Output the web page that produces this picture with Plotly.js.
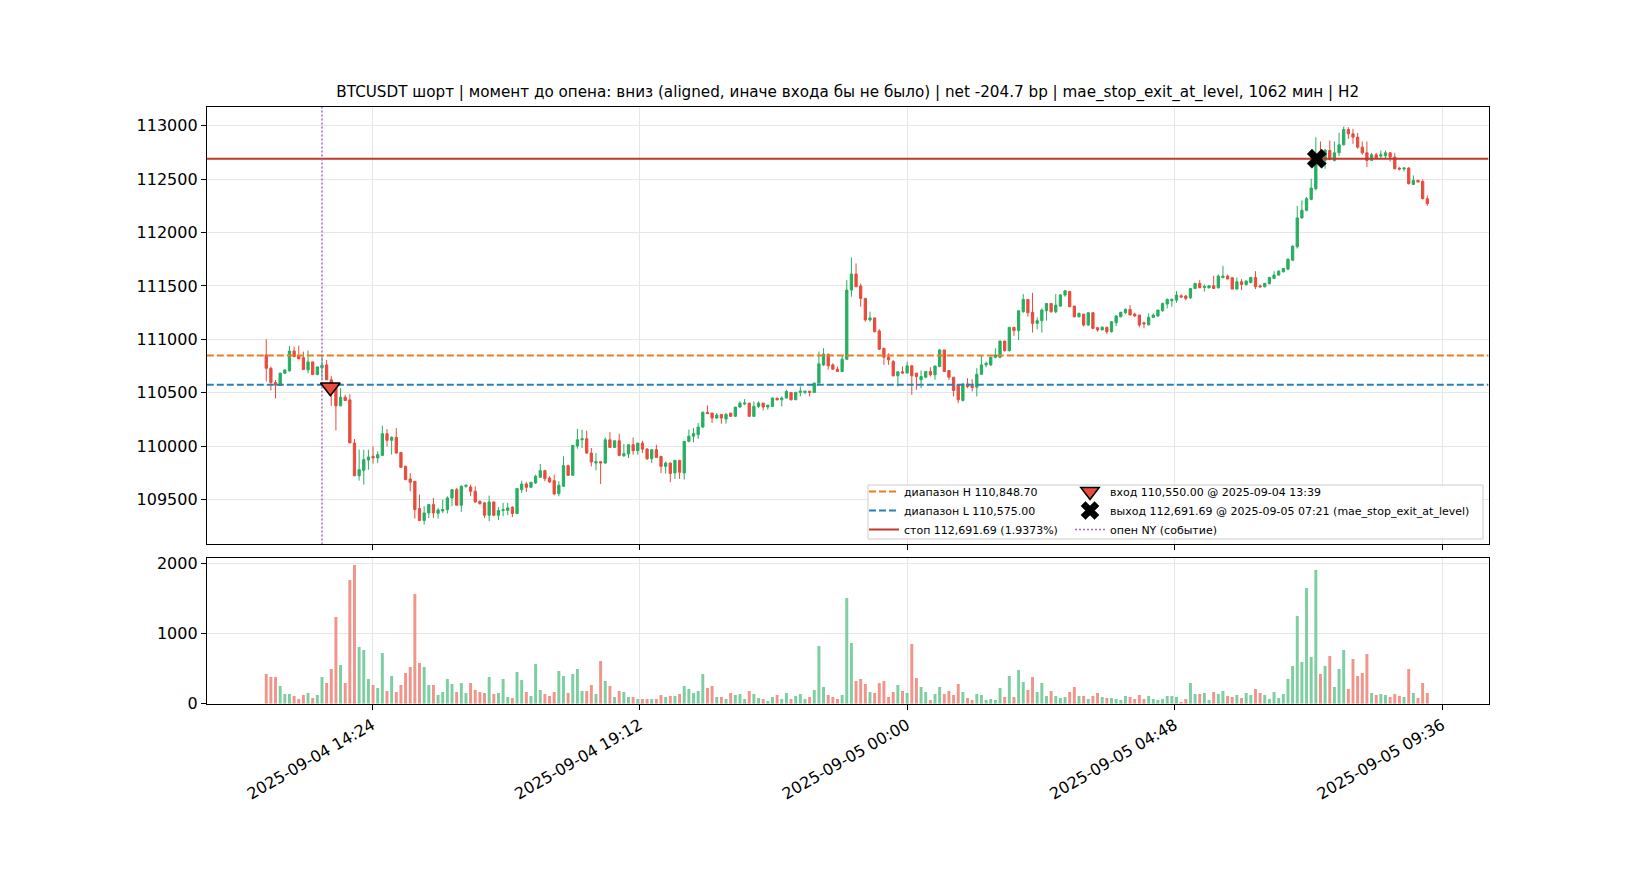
<!DOCTYPE html>
<html><head><meta charset="utf-8">
<script src="https://cdn.plot.ly/plotly-3.0.1.min.js"></script>
<style>html,body{margin:0;padding:0;background:#fff}#chart{width:1650px;height:880px}</style>
</head><body><div id="chart"></div>
<script>
// ---- data (5-minute candles, 2025-09-04 12:30 .. 2025-09-05 09:20) ----
const START_MIN = 12 * 60 + 30;
const STEP_MIN = 5;

const OPEN = [
110853,110728,110594,110567,110682,110704,110890,110847,110828,110713,
110788,110669,110732,110760,110620,110542,110376,110457,110432,110028,
109722,109772,109869,109903,109888,109912,110115,110053,110081,109940,
109810,109691,109669,109414,109302,109373,109451,109370,109392,109404,
109513,109591,109445,109622,109616,109576,109482,109467,109351,109476,
109351,109395,109395,109426,109367,109591,109644,109613,109654,109707,
109769,109700,109675,109554,109622,109816,109725,110000,110058,110068,
109934,109840,109853,109840,110058,109987,110049,109909,109925,110012,
109956,110027,109971,109881,109965,109903,109809,109840,109748,109866,
109748,110044,110091,110106,110178,110315,110309,110262,110296,110253,
110309,110278,110365,110393,110402,110278,110371,110402,110365,110371,
110449,110433,110449,110502,110433,110502,110502,110514,110502,110589,
110760,110860,110760,110720,110698,110813,111461,111611,111499,111383,
111181,111200,111078,110916,110832,110791,110658,110695,110683,110751,
110683,110620,110645,110698,110667,110744,110900,110707,110645,110573,
110427,110582,110563,110551,110672,110760,110760,110831,110831,110984,
110894,111112,111081,111258,111373,111252,111149,111174,111267,111336,
111258,111311,111414,111448,111311,111211,111236,111134,111249,111109,
111087,111112,111071,111155,111211,111249,111280,111236,111227,111155,
111134,111205,111218,111267,111330,111361,111367,111408,111405,111389,
111476,111523,111486,111482,111501,111482,111579,111592,111576,111470,
111539,111514,111532,111579,111501,111492,111520,111570,111601,111632,
111657,111741,111866,112137,112208,112311,112411,112750,112676,112769,
112676,112747,112822,112965,112925,112894,112800,112747,112676,112729,
112716,112719,112747,112707,112604,112595,112604,112451,112489,112479,
112317];

const HIGH = [
110999,110744,110619,110688,110713,110937,110930,110940,110884,110894,
110788,110744,110853,110807,110657,110542,110542,110479,110485,110065,
109965,109965,109965,109996,109950,110190,110158,110090,110168,109940,
109815,109747,109669,109545,109435,109451,109513,109420,109498,109529,
109591,109607,109632,109638,109638,109622,109488,109476,109535,109476,
109426,109467,109467,109436,109607,109675,109663,109663,109731,109831,
109778,109716,109731,109669,109903,109825,110006,110161,110152,110143,
109981,109934,109853,110080,110130,110049,110115,110018,110012,110080,
110027,110049,109981,109965,110012,109903,109856,109845,109866,109866,
110044,110153,110169,110215,110325,110380,110309,110309,110296,110309,
110309,110365,110418,110440,110402,110418,110418,110402,110383,110455,
110449,110465,110527,110502,110508,110558,110514,110514,110595,110885,
110916,110860,110776,110745,110854,111555,111766,111710,111523,111383,
111259,111200,111094,110916,110869,110807,110695,110745,110791,110760,
110683,110707,110698,110738,110750,110909,110900,110707,110645,110573,
110582,110635,110626,110729,110853,110791,110838,110915,110984,110984,
111112,111112,111267,111423,111373,111436,111205,111289,111336,111336,
111423,111423,111460,111448,111311,111249,111236,111249,111249,111109,
111124,111118,111165,111227,111258,111289,111320,111249,111227,111165,
111243,111243,111274,111342,111383,111383,111451,111420,111414,111482,
111529,111554,111514,111507,111595,111607,111688,111607,111585,111579,
111564,111554,111585,111638,111514,111529,111585,111638,111647,111669,
111757,111881,112249,112302,112333,112504,112893,112853,112785,112862,
112853,112934,112993,112987,112971,112934,112853,112853,112747,112747,
112769,112769,112753,112747,112613,112613,112613,112535,112489,112498,
112348];

const LOW = [
110604,110520,110445,110564,110676,110697,110831,110816,110716,110682,
110666,110663,110620,110620,110376,110146,110376,110426,110028,109716,
109676,109638,109778,109835,109841,109912,109996,109919,109928,109794,
109680,109576,109320,109296,109264,109326,109326,109320,109373,109367,
109435,109442,109383,109610,109529,109467,109451,109326,109295,109342,
109305,109342,109352,109333,109367,109560,109569,109613,109644,109700,
109669,109654,109538,109529,109622,109725,109725,109975,109981,109925,
109809,109772,109644,109834,109981,109981,109903,109897,109887,109918,
109918,109934,109869,109840,109887,109747,109741,109661,109692,109692,
109686,110035,110035,110066,110169,110300,110215,110253,110209,110209,
110272,110272,110355,110383,110278,110272,110355,110334,110340,110365,
110427,110371,110449,110427,110433,110465,110483,110465,110502,110589,
110751,110714,110714,110698,110698,110807,111399,111492,111305,111165,
111165,111063,110900,110760,110760,110651,110558,110676,110683,110480,
110527,110542,110635,110651,110620,110738,110698,110620,110464,110402,
110417,110542,110511,110464,110666,110738,110750,110822,110822,110884,
110884,111031,110993,111249,111211,111062,111093,111062,111174,111249,
111243,111305,111398,111305,111205,111205,111118,111124,111093,111071,
111087,111050,111062,111124,111205,111236,111227,111211,111112,111102,
111134,111205,111211,111258,111289,111305,111342,111389,111364,111377,
111470,111482,111445,111476,111476,111476,111570,111564,111470,111470,
111461,111501,111523,111470,111482,111486,111517,111564,111595,111626,
111648,111732,111850,112131,112199,112302,112395,112629,112598,112676,
112666,112716,112816,112878,112831,112785,112729,112613,112676,112685,
112685,112697,112666,112591,112582,112573,112451,112448,112473,112311,
112249];

const CLOSE = [
110728,110594,110570,110682,110713,110890,110838,110816,110716,110788,
110669,110741,110757,110620,110545,110376,110457,110426,110028,109722,
109778,109872,109897,109888,109919,110115,110053,110081,109934,109800,
109685,109660,109404,109302,109373,109451,109373,109401,109405,109513,
109591,109445,109622,109632,109576,109476,109460,109351,109476,109351,
109395,109405,109420,109367,109601,109644,109613,109660,109716,109769,
109694,109663,109551,109632,109816,109725,110006,110058,110068,109934,
109850,109853,109840,110058,109987,110049,109912,109928,110012,109956,
110027,109971,109881,109965,109893,109809,109840,109742,109866,109754,
110044,110091,110116,110178,110315,110303,110262,110290,110262,110296,
110278,110365,110402,110402,110278,110371,110402,110365,110383,110449,
110433,110449,110511,110433,110502,110514,110514,110502,110589,110770,
110860,110751,110720,110698,110813,111461,111611,111492,111383,111181,
111200,111072,110907,110832,110807,110658,110695,110683,110751,110658,
110651,110651,110698,110667,110750,110900,110698,110645,110520,110433,
110582,110557,110548,110672,110760,110775,110831,110853,110984,110894,
111112,111081,111267,111373,111249,111149,111174,111274,111336,111258,
111320,111414,111454,111305,111211,111243,111134,111249,111102,111087,
111112,111071,111165,111218,111252,111280,111227,111218,111134,111143,
111205,111227,111274,111336,111373,111373,111414,111395,111383,111476,
111523,111482,111495,111501,111476,111592,111592,111564,111470,111539,
111514,111545,111579,111492,111492,111523,111579,111601,111638,111663,
111750,111872,112137,112208,112317,112417,112691,112680,112769,112685,
112747,112822,112965,112925,112894,112800,112747,112676,112729,112697,
112729,112747,112707,112598,112595,112604,112458,112489,112473,112317,
112271];

const VOLUME = [
423,380,380,252,138,138,109,67,124,152,
81,124,380,295,494,1235,551,295,1762,1976,
808,765,352,266,223,722,181,394,166,266,
437,523,1563,580,523,266,266,124,166,352,
280,166,295,152,295,195,166,152,380,138,
152,352,95,81,451,337,166,109,565,195,
138,109,166,466,394,152,423,494,181,181,
266,138,608,323,252,95,181,166,95,95,
67,67,67,67,67,124,95,109,109,138,
252,209,152,181,423,223,252,95,95,67,
152,124,138,67,181,138,81,67,38,95,
124,67,152,67,109,138,67,95,195,822,
238,124,95,67,124,1506,865,323,352,280,
166,152,295,323,95,166,266,181,152,850,
366,238,166,52,138,238,138,181,124,280,
166,81,52,138,124,52,67,52,223,95,
394,95,480,309,195,380,166,295,109,181,
109,81,95,166,238,109,109,67,109,152,
95,81,81,67,52,109,95,67,124,67,
109,67,52,67,109,109,95,24,67,295,
138,138,152,52,166,138,181,109,95,124,
81,152,124,209,152,124,67,166,81,138,
352,537,1249,594,1648,665,1905,423,537,679,
238,494,765,209,637,394,437,708,152,124,
138,124,95,138,109,95,494,152,81,295,
152];

// ---- levels & events ----
const RANGE_H = 110848.70;
const RANGE_L = 110575.00;
const STOP = 112691.69;
const ENTRY_TIME = '2025-09-04 13:39';
const ENTRY_PRICE = 110550.00;
const EXIT_TIME = '2025-09-05 07:21';
const EXIT_PRICE = 112691.69;
const NY_OPEN_TIME = '2025-09-04 13:30';

const X_RANGE = ['2025-09-04 11:26', '2025-09-05 10:26'];
const Y_RANGE = [109078, 113180];
const VOL_RANGE = [0, 2071];
const TICK_VALS = ['2025-09-04 14:24', '2025-09-04 19:12', '2025-09-05 00:00', '2025-09-05 04:48', '2025-09-05 09:36'];
const TICK_TEXT = ['2025-09-04 14:24', '2025-09-04 19:12', '2025-09-05 00:00', '2025-09-05 04:48', '2025-09-05 09:36'];
const PRICE_TICKS = [109500, 110000, 110500, 111000, 111500, 112000, 112500, 113000];
const VOL_TICKS = [0, 1000, 2000];

const TITLE = 'BTCUSDT шорт | момент до опена: вниз (aligned, иначе входа бы не было) | net -204.7 bp | mae_stop_exit_at_level, 1062 мин | H2';
const LBL_H = 'диапазон H 110,848.70';
const LBL_L = 'диапазон L 110,575.00';
const LBL_STOP = 'стоп 112,691.69 (1.9373%)';
const LBL_ENTRY = 'вход 110,550.00 @ 2025-09-04 13:39';
const LBL_EXIT = 'выход 112,691.69 @ 2025-09-05 07:21 (mae_stop_exit_at_level)';
const LBL_NY = 'опен NY (событие)';

// ---- timestamps ----
function pad(n){return (n<10?'0':'')+n;}
const TIMES = OPEN.map((_, i) => {
  const t = START_MIN + i * STEP_MIN;
  const d = 4 + Math.floor(t / 1440);
  const m = t % 1440;
  return '2025-09-' + pad(d) + ' ' + pad(Math.floor(m / 60)) + ':' + pad(m % 60);
});

const GREEN = '#27ae60', RED = '#e74c3c';
const GREEN_L = '#7dcea0', RED_L = '#f1948a';
const volColors = CLOSE.map((c, i) => c >= OPEN[i] ? GREEN_L : RED_L);

const FONT = 'DejaVu Sans, Arial, sans-serif';

const traces = [
  {type:'candlestick', x:TIMES, open:OPEN, high:HIGH, low:LOW, close:CLOSE,
   xaxis:'x', yaxis:'y', showlegend:false, whiskerwidth:0,
   increasing:{line:{color:GREEN, width:1}, fillcolor:GREEN},
   decreasing:{line:{color:RED, width:1}, fillcolor:RED}, hoverinfo:'skip'},
  {type:'bar', x:TIMES, y:VOLUME, xaxis:'x2', yaxis:'y2', showlegend:false,
   marker:{color:volColors, line:{width:0}}, width:TIMES.map(()=>190000), hoverinfo:'skip'},
  // legend column 1
  {type:'scatter', mode:'lines', name:LBL_H, x:X_RANGE, y:[RANGE_H, RANGE_H], xaxis:'x', yaxis:'y',
   line:{color:'#e67e22', width:2, dash:'7px,3px'}, hoverinfo:'skip', legend:'legend'},
  {type:'scatter', mode:'lines', name:LBL_L, x:X_RANGE, y:[RANGE_L, RANGE_L], xaxis:'x', yaxis:'y',
   line:{color:'#2980b9', width:2, dash:'7px,3px'}, hoverinfo:'skip', legend:'legend'},
  {type:'scatter', mode:'lines', name:LBL_STOP, x:X_RANGE, y:[STOP, STOP], xaxis:'x', yaxis:'y',
   line:{color:'#c0392b', width:2}, hoverinfo:'skip', legend:'legend'},
  // legend column 2
  {type:'scatter', mode:'lines', name:LBL_NY, x:[NY_OPEN_TIME, NY_OPEN_TIME], y:Y_RANGE, xaxis:'x', yaxis:'y',
   line:{color:'#a569bd', width:1.5, dash:'2px,2px'}, hoverinfo:'skip', legend:'legend2', legendrank:3},
  {type:'scatter', mode:'markers', name:LBL_ENTRY, x:[ENTRY_TIME], y:[ENTRY_PRICE], xaxis:'x', yaxis:'y',
   marker:{symbol:'triangle-down', size:17, color:RED, line:{color:'#000', width:1.5}}, hoverinfo:'skip', legend:'legend2', legendrank:1},
  {type:'scatter', mode:'markers', name:LBL_EXIT, x:[EXIT_TIME], y:[EXIT_PRICE], xaxis:'x', yaxis:'y',
   marker:{symbol:'x', size:17, color:'#000', line:{color:'#000', width:0.5}}, hoverinfo:'skip', legend:'legend2', legendrank:2}
];

const axisCommon = {
  showline:true, mirror:true, linecolor:'#000', linewidth:1,
  showgrid:true, gridcolor:'#e6e6e6', gridwidth:1,
  ticks:'outside', ticklen:5, tickwidth:1, tickcolor:'#000',
  tickfont:{family:FONT, size:16, color:'#000'}, zeroline:false
};

const XDOM = [206.8/1650, 1488.6/1650];
const LEG_FONT = {family:FONT, size:11, color:'#000'};
const LEG_TOP = (880-477)/880;

const layout = {
  width:1650, height:880,
  margin:{l:0, r:0, t:0, b:0},
  paper_bgcolor:'#fff', plot_bgcolor:'#fff',
  hovermode:false,
  font:{family:FONT, color:'#000'},
  title:{text:TITLE, font:{family:FONT, size:15.2, color:'#000'},
         x:847.7/1650, xanchor:'center', xref:'paper', y:(880-92)/880, yanchor:'middle', yref:'paper'},
  xaxis:Object.assign({}, axisCommon, {type:'date', domain:XDOM, anchor:'y', range:X_RANGE,
         tickvals:TICK_VALS, ticktext:TICK_TEXT, showticklabels:false, rangeslider:{visible:false}}),
  yaxis:Object.assign({}, axisCommon, {domain:[(880-544.4)/880, (880-106.6)/880], anchor:'x', range:Y_RANGE,
         tickvals:PRICE_TICKS, tickformat:'d'}),
  xaxis2:Object.assign({}, axisCommon, {type:'date', domain:XDOM, anchor:'y2', range:X_RANGE,
         tickvals:TICK_VALS, ticktext:TICK_TEXT, tickangle:-30}),
  yaxis2:Object.assign({}, axisCommon, {domain:[(880-703.7)/880, (880-558.3)/880], anchor:'x2', range:VOL_RANGE,
         tickvals:VOL_TICKS, tickformat:'d'}),
  showlegend:true,
  shapes:[{type:'rect', xref:'paper', yref:'paper', layer:'above',
           x0:868/1650, x1:1483/1650, y0:(880-539)/880, y1:(880-485)/880,
           fillcolor:'rgba(255,255,255,0.85)', line:{color:'#cccccc', width:1}}],
  legend:{orientation:'v', x:864/1650, xanchor:'left', y:LEG_TOP, yanchor:'top',
          bgcolor:'rgba(0,0,0,0)', borderwidth:0, font:LEG_FONT, traceorder:'normal', tracegroupgap:0},
  legend2:{orientation:'v', x:1070/1650, xanchor:'left', y:LEG_TOP, yanchor:'top',
          bgcolor:'rgba(0,0,0,0)', borderwidth:0, font:LEG_FONT, traceorder:'normal', tracegroupgap:0}
};

Plotly.newPlot('chart', traces, layout, {displayModeBar:false, staticPlot:true});
</script>
</body></html>
